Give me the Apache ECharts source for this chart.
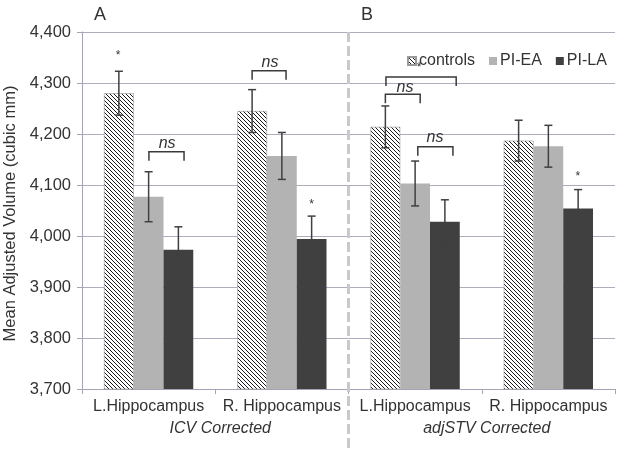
<!DOCTYPE html>
<html>
<head>
<meta charset="utf-8">
<script src="https://cdn.jsdelivr.net/npm/echarts@6/dist/echarts.min.js"></script>
<style>
html,body{margin:0;padding:0;background:#fff;}
#chart{width:624px;height:461px;}
</style>
</head>
<body>
<div id="chart"></div>
<script>
// ---- data ----
const categories = ['L.Hippocampus', 'R. Hippocampus', 'L.Hippocampus', 'R. Hippocampus'];
const groupLabels = ['ICV Corrected', 'adjSTV Corrected'];
const seriesNames = ['controls', 'PI-EA', 'PI-LA'];
const controls = [4280, 4245, 4214, 4187];
const piEA = [4077, 4157, 4103, 4176];
const piLA = [3973, 3994, 4028, 4054];
const errControls = [43, 42, 41, 40];
const errEA = [49, 46, 44, 41];
const errLA = [45, 45, 43, 37];
const yTicks = [3700, 3800, 3900, 4000, 4100, 4200, 4300, 4400];
// annotations: [category, value, bar offset start, bar offset end]
const brackets = [[0, 4165, 0.01, 1.19], [1, 4324, -1, 0.14], [2, 4312, -0.98, 1.38], [2, 4278, -1, 0.17], [2, 4175, 0.09, 1.27]];
// [category, value, bar offset]
const stars = [[0, 4359, -1.03], [1, 4067, 1.0], [2, 4335, 0.13], [3, 4122, 0.99]];
const nsLabels = [[0, 4182, 0.62], [1, 4341, -0.4], [2, 4292, -0.34], [2, 4194, 0.67]];
const panelLabels = ['A', 'B'];

// ---- style ----
const FONT = 'Liberation Sans, Arial, sans-serif';
const TXT = '#333333';
const AXIS = '#a4a4b4';
const BAR_GAP_RATIO = 0.67;

function hatch() {
  const s = 4;
  const c = document.createElement('canvas');
  c.width = s; c.height = s;
  const ctx = c.getContext('2d');
  ctx.fillStyle = '#ffffff';
  ctx.fillRect(0, 0, s, s);
  ctx.strokeStyle = '#1a1a1a';
  ctx.lineWidth = 1.0;
  ctx.beginPath();
  ctx.moveTo(-1, -1); ctx.lineTo(s + 1, s + 1);
  ctx.moveTo(-1, s - 1); ctx.lineTo(1, s + 1);
  ctx.moveTo(s - 1, -1); ctx.lineTo(s + 1, 1);
  ctx.stroke();
  return c;
}
const hatchColor = { image: hatch(), repeat: 'repeat' };

const barData = [controls, piEA, piLA];
const errData = [errControls, errEA, errLA];
const errItems = [];
for (let s = 0; s < 3; s++) {
  for (let i = 0; i < categories.length; i++) {
    errItems.push([i, barData[s][i], errData[s][i], s - 1]);
  }
}

function barW(api) {
  return api.size([1, 0])[0] * BAR_GAP_RATIO / 3;
}

const chart = echarts.init(document.getElementById('chart'), null, { renderer: 'canvas' });

const option = {
  animation: false,
  backgroundColor: '#ffffff',
  textStyle: { fontFamily: FONT, color: TXT },
  grid: { left: 82, right: 9, top: 32, bottom: 72, containLabel: false, outerBoundsMode: 'none' },
  legend: {
    data: seriesNames,
    left: 402, top: 48,
    icon: 'rect', itemWidth: 8, itemHeight: 8, itemGap: 14,
    textStyle: { fontSize: 16, color: TXT, fontFamily: FONT, padding: [0, 0, 0, -2] }
  },
  graphic: [
    { type: 'text', left: 94, top: 6, style: { text: panelLabels[0], fontSize: 18, fill: TXT, fontFamily: FONT } },
    { type: 'text', left: 361, top: 6, style: { text: panelLabels[1], fontSize: 18, fill: TXT, fontFamily: FONT } }
  ],
  xAxis: [
    {
      type: 'category', data: categories,
      axisLine: { lineStyle: { color: AXIS, width: 1 } },
      axisTick: { show: true, length: 5, lineStyle: { color: AXIS } },
      axisLabel: { fontSize: 16, color: TXT, margin: 10, interval: 0, fontFamily: FONT }
    },
    {
      type: 'category', data: groupLabels, position: 'bottom',
      axisLine: { show: false }, axisTick: { show: false },
      axisLabel: { fontSize: 16, color: TXT, margin: 32, fontStyle: 'italic', interval: 0, fontFamily: FONT, padding: [0, 0, 0, 10] }
    }
  ],
  yAxis: {
    type: 'value', min: yTicks[0], max: yTicks[yTicks.length - 1], interval: 100,
    name: 'Mean Adjusted Volume (cubic mm)', nameLocation: 'middle', nameGap: 52,
    nameTextStyle: { fontSize: 16.5, color: TXT, fontFamily: FONT, padding: [0, 6, 0, 0] },
    axisLine: { show: true, lineStyle: { color: AXIS } },
    axisTick: { show: true, length: 5, lineStyle: { color: AXIS } },
    splitLine: { lineStyle: { color: '#adadbd', width: 1 } },
    axisLabel: {
      fontSize: 16.5, color: TXT, margin: 11, fontFamily: FONT,
      formatter: v => v.toLocaleString('en-US')
    }
  },
  series: [
    { name: seriesNames[0], type: 'bar', data: controls, barGap: '0%', barCategoryGap: '33%',
      itemStyle: { color: hatchColor, borderColor: '#9a9a9a', borderWidth: 0.6 } },
    { name: seriesNames[1], type: 'bar', data: piEA, barGap: '0%', barCategoryGap: '33%',
      itemStyle: { color: '#b3b3b3' } },
    { name: seriesNames[2], type: 'bar', data: piLA, barGap: '0%', barCategoryGap: '33%',
      itemStyle: { color: '#404040' } },
    {
      type: 'custom', z: 5, clip: false, silent: true,
      data: errItems, encode: { x: 0, y: 1 },
      renderItem: function (params, api) {
        const c = api.value(0), v = api.value(1), e = api.value(2), off = api.value(3);
        const w = barW(api);
        const hi = api.coord([c, v + e]);
        const lo = api.coord([c, v - e]);
        const x = hi[0] + off * w;
        const cap = 4;
        const st = { stroke: '#404040', lineWidth: 1.5 };
        return { type: 'group', children: [
          { type: 'line', shape: { x1: x, y1: hi[1], x2: x, y2: lo[1] }, style: st },
          { type: 'line', shape: { x1: x - cap, y1: hi[1], x2: x + cap, y2: hi[1] }, style: st },
          { type: 'line', shape: { x1: x - cap, y1: lo[1], x2: x + cap, y2: lo[1] }, style: st }
        ] };
      }
    },
    {
      type: 'custom', z: 6, clip: false, silent: true,
      data: brackets, encode: { x: 0, y: 1 },
      renderItem: function (params, api) {
        const c = api.value(0), v = api.value(1), o1 = api.value(2), o2 = api.value(3);
        const w = barW(api);
        const p = api.coord([c, v]);
        const x1 = p[0] + o1 * w, x2 = p[0] + o2 * w, y = p[1];
        return { type: 'polyline', shape: { points: [[x1, y + 9], [x1, y], [x2, y], [x2, y + 9]] },
          style: { stroke: '#3a3a3a', lineWidth: 1.5, fill: null } };
      }
    },
    {
      type: 'custom', z: 6, clip: false, silent: true,
      data: stars, encode: { x: 0, y: 1 },
      renderItem: function (params, api) {
        const p = api.coord([api.value(0), api.value(1)]);
        const x = p[0] + api.value(2) * barW(api);
        return { type: 'text', x: x, y: p[1] + 3,
          style: { text: '*', fontSize: 12, fill: TXT, fontFamily: FONT, align: 'center', verticalAlign: 'middle' } };
      }
    },
    {
      type: 'custom', z: 6, clip: false, silent: true,
      data: nsLabels, encode: { x: 0, y: 1 },
      renderItem: function (params, api) {
        const p = api.coord([api.value(0), api.value(1)]);
        const x = p[0] + api.value(2) * barW(api);
        return { type: 'text', x: x, y: p[1],
          style: { text: 'ns', fontSize: 16, fontStyle: 'italic', fill: TXT, fontFamily: FONT, align: 'center', verticalAlign: 'middle' } };
      }
    },
    {
      type: 'custom', z: 1, clip: false, silent: true,
      data: [[1, yTicks[yTicks.length - 1]]], encode: { x: 0, y: 1 },
      renderItem: function (params, api) {
        const p = api.coord([api.value(0), api.value(1)]);
        const x = p[0] + api.size([1, 0])[0] / 2;
        return { type: 'line', shape: { x1: x, y1: p[1], x2: x, y2: 452 },
          style: { stroke: '#c9c9c9', lineWidth: 3, lineDash: [10, 4] } };
      }
    }
  ]
};
chart.setOption(option);
</script>
</body>
</html>
